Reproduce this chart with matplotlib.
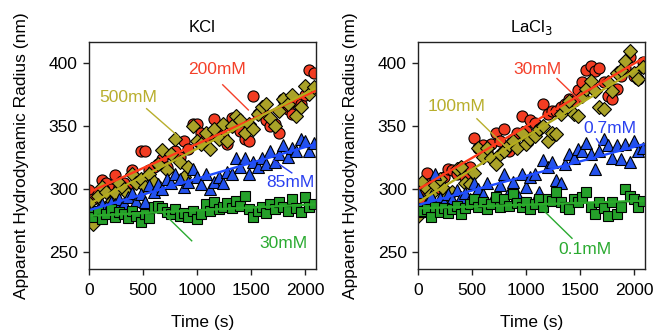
import numpy as np
from matplotlib import pyplot as plt

plt.rcParams['font.family'] = ['Liberation Sans', 'DejaVu Sans']
plt.rcParams['font.size'] = 12

# sampling times (s), shared by every series
t = [0, 40, 80, 120, 160, 200, 240, 280, 320, 360, 400, 440, 480, 520, 560,
     600, 640, 680, 720, 760, 800, 840, 880, 920, 960, 1000, 1040, 1080, 1120,
     1160, 1200, 1240, 1280, 1320, 1360, 1400, 1440, 1480, 1520, 1560, 1600,
     1640, 1680, 1720, 1760, 1800, 1840, 1880, 1920, 1960, 2000, 2040, 2080]

# KCl
kcl_200 = [299, 292, 296, 307, 305, 300, 311, 302, 305, 300, 315, 308, 330, 330,
           315, 318, 320, 324, 318, 328, 330, 326, 338, 332, 352, 352, 345, 340,
           344, 356, 348, 342, 336, 357, 350, 346, 340, 338, 374, 360, 362, 355,
           350, 352, 345, 372, 364, 360, 370, 368, 375, 395, 392]
kcl_500 = [289, 272, 295, 302, 298, 290, 297, 305, 300, 296, 312, 305, 308, 302,
           312, 306, 320, 331, 315, 328, 340, 322, 310, 318, 350, 338, 336, 345,
           332, 348, 340, 352, 338, 350, 358, 355, 345, 352, 348, 360, 365, 368,
           357, 350, 362, 372, 368, 375, 358, 365, 382, 376, 381]
kcl_85 = [283, 280, 284, 288, 286, 290, 288, 292, 289, 294, 297, 291, 296, 290,
          303, 298, 304, 300, 308, 305, 312, 308, 302, 306, 316, 310, 304, 312,
          300, 306, 310, 305, 314, 312, 325, 318, 325, 312, 322, 318, 325, 320,
          330, 322, 328, 335, 326, 333, 330, 340, 338, 330, 337]
kcl_30 = [281, 278, 283, 276, 280, 284, 278, 282, 280, 277, 283, 279, 274, 280,
          277, 286, 287, 285, 282, 280, 284, 279, 281, 278, 283, 276, 280, 288,
          283, 290, 284, 286, 289, 285, 291, 287, 295, 284, 278, 283, 286, 281,
          288, 284, 290, 286, 283, 292, 285, 282, 294, 286, 288]

# LaCl3
la_30 = [296, 291, 313, 305, 300, 308, 310, 316, 315, 312, 318, 310, 318, 341,
         333, 335, 330, 336, 345, 338, 348, 330, 340, 345, 358, 346, 355, 353,
         348, 368, 360, 362, 362, 365, 368, 372, 370, 379, 385, 395, 398, 394,
         396, 385, 374, 372, 380, 390, 396, 405, 390, 388, 401]
la_100 = [279, 306, 300, 296, 303, 308, 300, 295, 298, 316, 318, 305, 304, 313,
          333, 326, 333, 325, 320, 328, 330, 335, 338, 333, 345, 336, 340, 342,
          348, 350, 338, 345, 344, 360, 365, 370, 360, 358, 374, 380, 386, 378,
          365, 364, 385, 378, 392, 395, 402, 410, 392, 388, 397]
la_07 = [298, 283, 290, 295, 312, 293, 290, 296, 292, 299, 294, 297, 292, 305,
         300, 296, 305, 290, 293, 303, 312, 298, 306, 296, 312, 302, 310, 312,
         298, 323, 318, 322, 307, 305, 320, 328, 325, 332, 330, 337, 328, 316,
         330, 340, 335, 325, 335, 324, 336, 322, 338, 330, 333]
la_01 = [285, 283, 284, 278, 286, 282, 285, 281, 284, 287, 280, 285, 288, 292,
         286, 290, 284, 288, 294, 286, 292, 287, 296, 289, 286, 290, 284, 288,
         292, 286, 292, 291, 298, 290, 286, 284, 292, 290, 294, 298, 286, 280,
         290, 285, 279, 290, 280, 286, 300, 295, 292, 286, 291]

RED, OLIVE, BLUE, GREEN = '#f23c22', '#aaa228', '#2452ec', '#25a02a'
LRED, LOLIVE, LBLUE, LGREEN = '#ff3a1a', '#b4ac1c', '#1f4cff', '#2aaa2a'
TRED, TOLIVE, TBLUE, TGREEN = '#f4402a', '#b8ae2c', '#2a40f0', '#2aaa30'

panels = [
    ("KCl", [(kcl_200, 'o', RED, LRED, 8),
             (kcl_500, 'D', OLIVE, LOLIVE, 7),
             (kcl_85, '^', BLUE, LBLUE, 8),
             (kcl_30, 's', GREEN, LGREEN, 7.5)],
     [("200mM", TRED, (1182, 395), (1238, 383), (1475, 363)),
      ("500mM", TOLIVE, (364, 373), (534, 364), (827, 342)),
      ("85mM", TBLUE, (1861, 305), (1707, 323), (1877, 313)),
      ("30mM", TGREEN, (1799, 257), (688, 281), (951, 259))]),
    ("LaCl$_3$", [(la_30, 'o', RED, LRED, 8),
                  (la_100, 'D', OLIVE, LOLIVE, 7),
                  (la_07, '^', BLUE, LBLUE, 8),
                  (la_01, 's', GREEN, LGREEN, 7.5)],
     [("30mM", TRED, (1102, 395), (1287, 388), (1504, 370)),
      ("100mM", TOLIVE, (361, 366), (546, 356), (809, 334)),
      ("0.7mM", TBLUE, (1781, 348), (1652, 340), (1689, 335)),
      ("0.1mM", TGREEN, (1550, 252), (1164, 283), (1426, 261))]),
]

fig = plt.figure(figsize=(6.54, 3.31), dpi=100)
lefts = [0.136, 0.639]

for left, (title, series, notes) in zip(lefts, panels):
    ax = fig.add_axes([left, 0.187, 0.347, 0.686])
    for y, m, fc, lc, ms in series:
        ax.plot(t, y, m, ms=ms, mfc=fc, mec='black', mew=0.8, linestyle='none')
    tt = np.array([20, 2090])
    for y, m, fc, lc, ms in series:
        k, b = np.polyfit(t, y, 1)
        ax.plot(tt, k * tt + b, color=lc, lw=1.7)
    for txt, col, pos, p0, p1 in notes:
        ax.plot([p0[0], p1[0]], [p0[1], p1[1]], color=col, lw=1)
        ax.text(pos[0], pos[1], txt, color=col, ha='center', va='center', fontsize=12.5)
    ax.set_xlim(0, 2100)
    ax.set_ylim(236.5, 417)
    ax.set_xticks([0, 500, 1000, 1500, 2000])
    ax.set_yticks([250, 300, 350, 400])
    ax.tick_params(axis='both', direction='out', length=4, width=1, colors='#222222',
                   labelcolor='black', labelsize=12.5)
    ax.tick_params(axis='x', pad=6)
    ax.tick_params(axis='y', pad=4)
    for s in ax.spines.values():
        s.set_linewidth(1)
        s.set_color('#222222')
    ax.set_title(title, fontsize=12, pad=7)
    ax.set_xlabel("Time (s)", fontsize=12.5, labelpad=12)
    ax.set_ylabel("Apparent Hydrodynamic Radius (nm)", fontsize=12.5, labelpad=14)

fig.savefig("out.png", dpi=100)
